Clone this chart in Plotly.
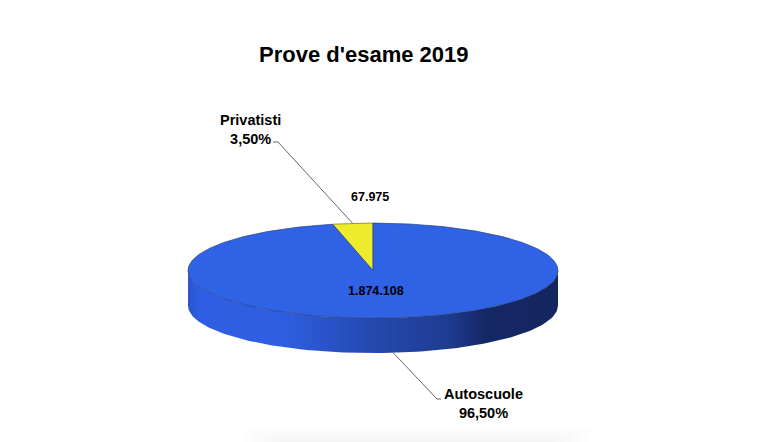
import numpy as np
import plotly.graph_objects as go

# data
categories = ["Privatisti", "Autoscuole"]
values = [67975, 1874108]
value_labels = ["67.975", "1.874.108"]
percent_labels = ["3,50%", "96,50%"]
title = "Prove d'esame 2019"

colors = {"Privatisti": "#eeea2c", "Autoscuole": "#3062e6"}

# pie geometry in page pixels
CX, CY = 373, 270.6
RX, RY = 185, 47.5
DEPTH = 35
W, H = 758, 442

# side wall shading, position across the pie (0-1) and colour
wall_scale = [
    [0.0, "#2a54cd"],
    [0.03, "#2f5ee2"],
    [0.25, "#2f5ee2"],
    [0.5, "#2449af"],
    [0.7, "#1e3c91"],
    [0.8, "#152866"],
    [1.0, "#14265f"],
]


def ellipse_point(frac, drop=0):
    # frac runs clockwise from 12 o'clock
    a = 2 * np.pi * np.asarray(frac)
    return CX + RX * np.sin(a), CY - RY * np.cos(a) + drop


fig = go.Figure()

# faint grey smudge at the bottom edge of the page
for i in range(5):
    fig.add_trace(go.Scatter(
        x=[245 + i * 9, 590 - i * 9, 590 - i * 9, 245 + i * 9],
        y=[429 + i * 3, 429 + i * 3, H, H],
        mode="lines",
        fill="toself",
        fillcolor="rgba(0,0,0,0.0075)",
        line=dict(width=0),
        hoverinfo="skip",
        showlegend=False,
    ))

# side wall
t = np.linspace(0.25, 0.75, 121)
wx, wy = ellipse_point(t)
fig.add_trace(go.Scatter(
    x=np.concatenate([wx, wx[::-1]]),
    y=np.concatenate([wy, wy[::-1] + DEPTH]),
    mode="lines",
    fill="toself",
    fillgradient=dict(type="horizontal", colorscale=wall_scale, start=CX - RX, stop=CX + RX),
    line=dict(width=0),
    hoverinfo="skip",
    showlegend=False,
))

# top face
total = sum(values)
shares = [v / total for v in values]
start = -shares[0]
mids = []
for name, share in zip(categories, shares):
    t = np.linspace(start, start + share, max(int(share * 360), 8))
    ex, ey = ellipse_point(t)
    is_small = share < 0.5
    fig.add_trace(go.Scatter(
        x=np.concatenate([[CX], ex, [CX]]),
        y=np.concatenate([[CY], ey, [CY]]),
        mode="lines",
        fill="toself",
        fillcolor=colors[name],
        line=dict(color="#6f6f3a" if is_small else "#24407f", width=0.7),
        name=name,
        hoverinfo="name",
        showlegend=False,
    ))
    mids.append(start + share / 2)
    start += share

# leader lines go from the middle of each slice to its label
px, py = ellipse_point(mids[0])
ax, ay = ellipse_point(mids[1], DEPTH)
fig.add_trace(go.Scatter(
    x=[273, 278, px], y=[142, 142, py],
    mode="lines", line=dict(color="#666666", width=1),
    hoverinfo="skip", showlegend=False,
))
fig.add_trace(go.Scatter(
    x=[ax, 437, 441], y=[ay, 399, 399],
    mode="lines", line=dict(color="#666666", width=1),
    hoverinfo="skip", showlegend=False,
))

FONT = "Liberation Sans"


def label(x, y, text, size=14):
    fig.add_annotation(
        x=x, y=y, text=f"<b>{text}</b>", showarrow=False,
        xanchor="center", yanchor="middle", align="center",
        font=dict(family=FONT, size=size, color="#000000"),
    )


label(250.5, 129, f"{categories[0]}<br>{percent_labels[0]}", 14.5)
label(483, 403, f"{categories[1]}<br>{percent_labels[1]}", 14.5)
label(369.5, 196.7, value_labels[0], 12.5)
label(376, 291, value_labels[1], 12.5)
label(363, 54.5, title, 22)

fig.update_layout(
    width=W,
    height=H,
    margin=dict(l=0, r=0, t=0, b=0),
    paper_bgcolor="#ffffff",
    plot_bgcolor="#ffffff",
    showlegend=False,
)
fig.update_xaxes(visible=False, range=[0, W], fixedrange=True)
fig.update_yaxes(visible=False, range=[H, 0], fixedrange=True)

fig.write_html(
    "out.html",
    config=dict(displayModeBar=False),
    post_script="document.body.style.margin='0';",
)
